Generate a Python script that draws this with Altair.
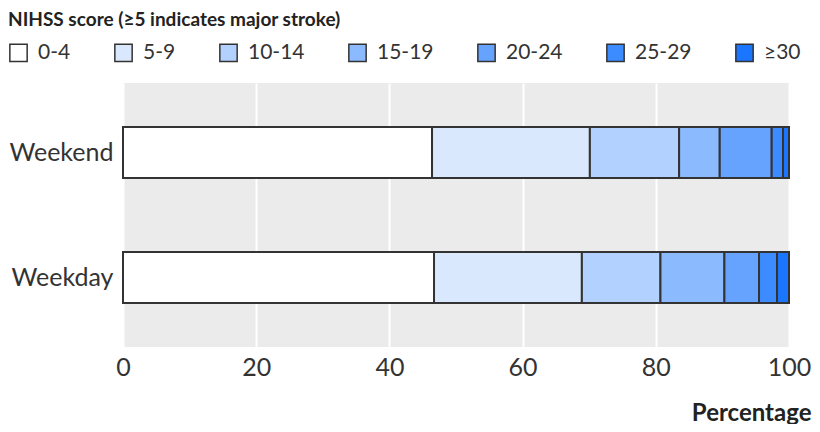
import altair as alt
import pandas as pd

groups = ["Weekend", "Weekday"]
categories = ["0-4", "5-9", "10-14", "15-19", "20-24", "25-29", "≥30"]
weekend = [46.4, 23.7, 13.4, 6.1, 7.8, 1.7, 0.9]
weekday = [46.7, 22.2, 11.8, 9.6, 5.2, 2.7, 1.8]
colors = ["#ffffff", "#dae8fd", "#b3d1ff", "#8cbaff", "#66a3ff", "#3d8cff", "#1a75ff"]

rows = []
for g, vals in zip(groups, [weekend, weekday]):
    for i, (c, v) in enumerate(zip(categories, vals)):
        rows.append({"group": g, "score": c, "order": i, "pct": v})
df = pd.DataFrame(rows)

FONT = "Lato"

chart = alt.Chart(df).mark_bar(stroke="#333333", strokeWidth=2).encode(
    x=alt.X("pct:Q", stack="zero",
            scale=alt.Scale(domain=[0, 100], nice=False),
            axis=alt.Axis(values=[0, 20, 40, 60, 80, 100], title="Percentage",
                          titleAnchor="end", titleAlign="right", titleX=688, titleY=66,
                          titleFontSize=24, titleFontWeight="bold", titleColor="#222222",
                          titleBaseline="middle",
                          labelFontSize=25, labelColor="#333333", labelPadding=8,
                          ticks=False, domain=False, grid=True,
                          gridColor="white", gridWidth=2, labelFlush=False)),
    y=alt.Y("group:N", sort=groups, title=None,
            scale=alt.Scale(paddingInner=0.592, paddingOuter=0.352),
            axis=alt.Axis(labelFontSize=25, labelColor="#333333", ticks=False,
                          domain=False, labelPadding=10, grid=False)),
    color=alt.Color("score:N", sort=categories,
                    scale=alt.Scale(domain=categories, range=colors),
                    legend=alt.Legend(title="NIHSS score (≥5 indicates major stroke)",
                                      orient="none", legendX=-115, legendY=-72,
                                      direction="horizontal", columns=7,
                                      titleFontSize=19, titleFontWeight="bold",
                                      titleColor="#222222", titlePadding=12, titleLimit=0,
                                      labelFontSize=21, labelColor="#333333", labelLimit=0,
                                      symbolType="square", symbolSize=300,
                                      symbolStrokeColor="#333333", symbolStrokeWidth=1.5,
                                      symbolOpacity=1, labelOffset=9, columnPadding=40)),
    order=alt.Order("order:Q"),
).properties(
    width=666, height=264,
    autosize=alt.AutoSizeParams(type="none"),
    padding={"left": 115, "top": 75, "right": 23, "bottom": 77},
).configure(
    font=FONT
).configure_view(
    fill="#ebebeb", stroke=None
)

chart.save("out.html", embed_options={"renderer": "svg", "actions": False})
